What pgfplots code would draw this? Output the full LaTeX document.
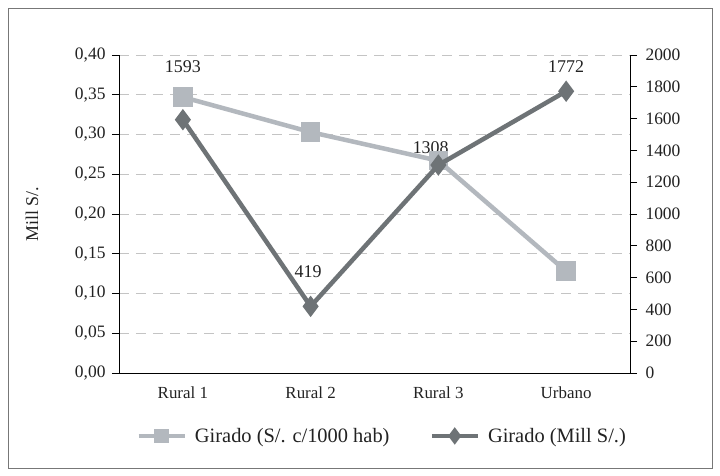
\documentclass[border=0pt]{standalone}
\usepackage{fontspec}
\setmainfont{Liberation Serif}
\usepackage{pgfplots}
\pgfplotsset{compat=1.18}
\definecolor{claro}{HTML}{B3B8BE}
\definecolor{oscuro}{HTML}{6E7376}
\definecolor{rejilla}{HTML}{C4C4C4}
\definecolor{marco}{HTML}{777777}
\definecolor{texto}{HTML}{222222}

\begin{document}
\begin{tikzpicture}[x=1bp,y=1bp]
\path[fill=white] (-119,-103) rectangle (601,373);
\draw[marco, line width=0.9bp] (-111,-95) rectangle (593,365);
\pgfplotsset{
  base/.style={
    width=511bp, height=318bp, scale only axis,
    at={(0,0)}, anchor=south west,
    xmin=0.5, xmax=4.5,
    tick label style={font=\fontsize{17.5}{19}\selectfont, text=texto},
    label style={font=\fontsize{18}{20}\selectfont, text=texto},
    /pgf/number format/assume math mode=true,
    axis line style={black, line width=0.9bp},
    tick style={black, line width=0.9bp},
    major tick length=7bp,
  },
}
\begin{axis}[base,
  axis y line*=left, axis x line*=bottom,
  ymin=0, ymax=0.40, ytick={0,0.05,...,0.401},
  yticklabel style={/pgf/number format/fixed, /pgf/number format/fixed zerofill,
    /pgf/number format/precision=2, /pgf/number format/use comma, xshift=-3bp},
  ymajorgrids, grid style={rejilla, dash pattern=on 10bp off 7bp, line width=0.9bp},
  xtick={1,2,3,4}, xticklabels={Rural 1, Rural 2, Rural 3, Urbano},
  x tick style={draw=none},
  xticklabel style={yshift=-3bp, font=\fontsize{17}{19}\selectfont},
  extra x ticks={0.5,1.5,2.5,3.5,4.5}, extra x tick labels={},
  extra x tick style={tick style={black, line width=0.9bp}, major tick length=7bp, tick align=outside, grid=none},
  tick align=outside,
  ylabel={Mill S/.},
  ylabel style={at={(axis description cs:-0.17,0.5)}, anchor=center},
  clip=false,
]
\addplot[claro, line width=4.5bp, mark=square*, mark size=7.5bp, mark options={solid}]
  coordinates {(1,0.347) (2,0.303) (3,0.267) (4,0.128)};
\node[font=\fontsize{18}{20}\selectfont, text=texto] at (axis cs:1,0.385) {1593};
\node[font=\fontsize{18}{20}\selectfont, text=texto] at (axis cs:1.98,0.127) {419};
\node[font=\fontsize{18}{20}\selectfont, text=texto] at (axis cs:2.94,0.284) {1308};
\node[font=\fontsize{18}{20}\selectfont, text=texto] at (axis cs:4,0.385) {1772};
\end{axis}
\begin{axis}[base,
  axis y line*=right, axis x line=none,
  ymin=0, ymax=2000, ytick={0,200,...,2000},
  yticklabel style={/pgf/number format/1000 sep={}, xshift=5bp},
  tick align=outside,
  legend style={at={(0.515,-0.198)}, anchor=center, draw=none, fill=none,
    legend columns=2, font=\fontsize{20.5}{22}\selectfont, text=texto,
    /tikz/every odd column/.append style={column sep=6bp},
    /tikz/every even column/.append style={column sep=38bp}},
  legend image code/.code={\draw[mark repeat=2, mark phase=2] plot coordinates {(0bp,0bp) (23bp,0bp) (46bp,0bp)};},
]
\addlegendimage{claro, line width=4.5bp, mark=square*, mark size=5bp}
\addlegendentry{Girado (S/. c/1000 hab)}
\addplot[oscuro, line width=4.5bp, mark=diamond*, mark size=7bp, mark options={solid},
  forget plot]
  coordinates {(1,1593) (2,419) (3,1308) (4,1772)};
\addlegendimage{oscuro, line width=4.5bp, mark=diamond*, mark size=5bp}
\addlegendentry{Girado (Mill S/.)}
\end{axis}
\end{tikzpicture}
\end{document}
